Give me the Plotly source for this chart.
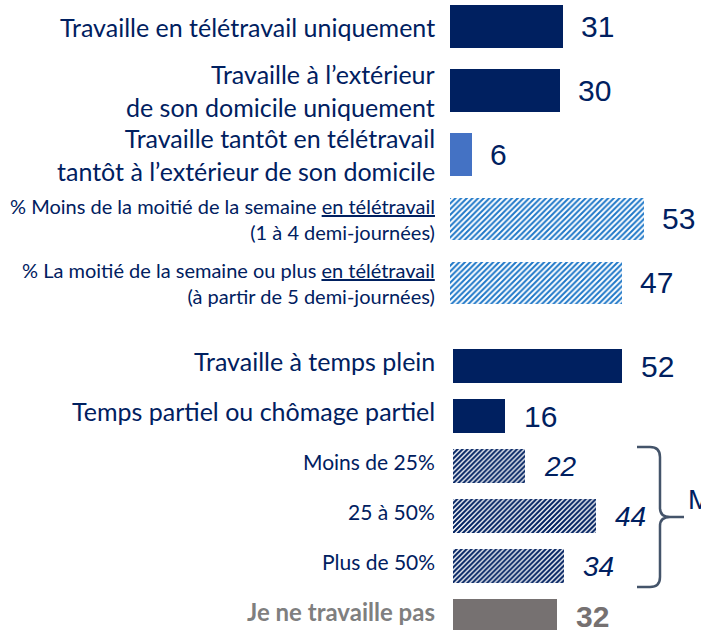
import plotly.graph_objects as go

# ---------------- data ----------------
top_labels = [
    "Travaille en télétravail uniquement",
    "Travaille à l’extérieur<br>de son domicile uniquement",
    "Travaille tantôt en télétravail<br>tantôt à l’extérieur de son domicile",
    "% Moins de la moitié de la semaine <u>en télétravail</u><br>(1 à 4 demi-journées)",
    "% La moitié de la semaine ou plus <u>en télétravail</u><br>(à partir de 5 demi-journées)",
]
top_values = [31, 30, 6, 53, 47]
top_styles = ["navy", "navy", "light", "hatch_blue", "hatch_blue"]

bottom_labels = [
    "Travaille à temps plein",
    "Temps partiel ou chômage partiel",
    "Moins de 25%",
    "25 à 50%",
    "Plus de 50%",
    "Je ne travaille pas",
]
bottom_values = [52, 16, 22, 44, 34, 32]
bottom_styles = ["navy", "navy", "hatch_navy", "hatch_navy", "hatch_navy", "gray"]

bracket_text = "Moyenne"

# ---------------- styling ----------------
W, H = 701, 630
NAVY = "#002060"
LIGHT = "#4472C4"
HBLUE = "#1F78C8"
GRAY = "#767171"
LABEL_FONT = "Lato, Calibri, Carlito, sans-serif"
NUM_FONT = "Liberation Sans, Arial, sans-serif"

def px(x):
    return x / W

def py(y):
    return 1 - y / H

top_ids = [f"t{i}" for i in range(len(top_labels))]
bot_ids = [f"b{i}" for i in range(len(bottom_labels))]

fig = go.Figure()

style_marker = {
    "navy": dict(color=NAVY),
    "light": dict(color=LIGHT),
    "gray": dict(color=GRAY),
    "hatch_blue": dict(color="white",
                       pattern=dict(shape="/", fgcolor=HBLUE, bgcolor="white",
                                    size=4, solidity=0.5, fillmode="replace")),
    "hatch_navy": dict(color="white",
                       pattern=dict(shape="/", fgcolor=NAVY, bgcolor="white",
                                    size=3.5, solidity=0.6, fillmode="replace")),
}

def add_group(ids, values, styles, xa, ya):
    for st in dict.fromkeys(styles):
        ys = [i for i, s in zip(ids, styles) if s == st]
        xs = [v for v, s in zip(values, styles) if s == st]
        m = dict(style_marker[st])
        m["line"] = dict(width=0)
        fig.add_trace(go.Bar(x=xs, y=ys, orientation="h", marker=m, width=0.67,
                             xaxis=xa, yaxis=ya, showlegend=False, hoverinfo="skip"))

add_group(top_ids, top_values, top_styles, "x", "y")
add_group(bot_ids, bottom_values, bottom_styles, "x2", "y2")

ann = []
# left labels, top group
top_sizes = [25, 25, 25, 20, 20]
for cid, lab, fs in zip(top_ids, top_labels, top_sizes):
    ann.append(dict(x=px(437), xref="paper", y=cid, yref="y", text=lab,
                    xanchor="right", yanchor="middle", align="right", showarrow=False,
                    font=dict(family=LABEL_FONT, size=fs, color=NAVY)))
# left labels, bottom group
bot_sizes = [25, 25, 21, 21, 21, 24]
for cid, lab, fs, st in zip(bot_ids, bottom_labels, bot_sizes, bottom_styles):
    color = "#7F7F7F" if st == "gray" else NAVY
    text = f"<b>{lab}</b>" if st == "gray" else lab
    ann.append(dict(x=px(437), xref="paper", y=cid, yref="y2", text=text,
                    xanchor="right", yanchor="middle", align="right", showarrow=False,
                    yshift=5, font=dict(family=LABEL_FONT, size=fs, color=color)))

# value labels
for cid, v in zip(top_ids, top_values):
    ann.append(dict(x=v, xref="x", y=cid, yref="y", text=str(v), xanchor="left",
                    yanchor="middle", showarrow=False, xshift=16,
                    font=dict(family=NUM_FONT, size=30, color=NAVY)))
for cid, v, st in zip(bot_ids, bottom_values, bottom_styles):
    if st == "hatch_navy":
        text, color, size = f"<i>{v}</i>", NAVY, 28
    elif st == "gray":
        text, color, size = f"<b>{v}</b>", GRAY, 30
    else:
        text, color, size = str(v), NAVY, 30
    ann.append(dict(x=v, xref="x2", y=cid, yref="y2", text=text, xanchor="left",
                    yanchor="middle", showarrow=False, xshift=17,
                    font=dict(family=NUM_FONT, size=size, color=color)))

# bracket caption (cut at right edge, as in the reference)
ann.append(dict(x=px(686), xref="paper", y=py(499), yref="paper", text=bracket_text,
                xanchor="left", yanchor="middle", showarrow=False,
                font=dict(family=NUM_FONT, size=28, color=NAVY)))

# bracket shape (decoration) in pixel -> paper coords
pts = [
    ("M", 637, 447), ("L", 650, 447), ("Q", 660, 447, 660, 457),
    ("L", 660, 508), ("Q", 660, 517, 670, 517), ("L", 684, 517),
    ("M", 670, 517), ("Q", 660, 517, 660, 526),
    ("L", 660, 577), ("Q", 660, 587, 650, 587), ("L", 637, 587),
]
path = ""
for p in pts:
    cmd, coords = p[0], p[1:]
    pairs = [f"{px(coords[i]):.5f},{py(coords[i+1]):.5f}" for i in range(0, len(coords), 2)]
    path += f"{cmd} {' '.join(pairs)} "
shapes = [dict(type="path", path=path.strip(), xref="paper", yref="paper",
               line=dict(color="#44546A", width=2.5))]

fig.update_layout(
    width=W, height=H,
    margin=dict(l=0, r=0, t=0, b=0),
    paper_bgcolor="white", plot_bgcolor="white",
    bargap=0,
    annotations=ann, shapes=shapes,
    xaxis=dict(domain=[px(450), 1], range=[0, 251 / 3.66], visible=False, anchor="y", fixedrange=True),
    yaxis=dict(domain=[py(315), 1], type="category", categoryorder="array",
               categoryarray=top_ids, range=[4.5, -0.42], visible=False, anchor="x"),
    xaxis2=dict(domain=[px(453), 1], range=[0, 248 / 3.25], visible=False, anchor="y2"),
    yaxis2=dict(domain=[0, py(330)], type="category", categoryorder="array",
                categoryarray=bot_ids, range=[5.28, -0.72], visible=False, anchor="x2"),
)

fig.write_html(
    "out.html",
    config={"displayModeBar": False},
    post_script="document.body.style.margin='0';document.body.style.overflow='hidden';",
)
